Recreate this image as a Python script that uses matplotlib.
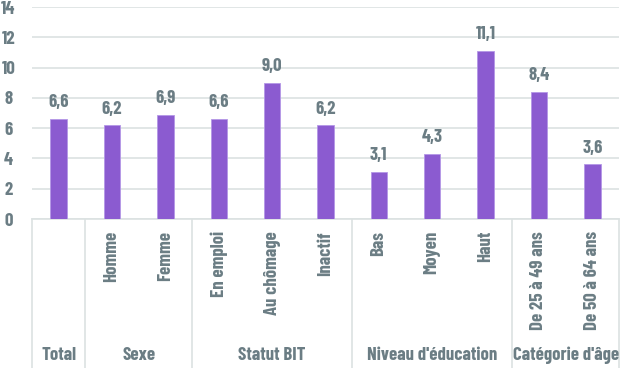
import matplotlib.pyplot as plt
import matplotlib.transforms as mtransforms

categories = ['Total', 'Homme', 'Femme', 'En emploi', 'Au chômage', 'Inactif',
              'Bas', 'Moyen', 'Haut', 'De 25 à 49 ans', 'De 50 à 64 ans']
tick_labels = ['', 'Homme', 'Femme', 'En emploi', 'Au chômage', 'Inactif',
               'Bas', 'Moyen', 'Haut', 'De 25 à 49 ans', 'De 50 à 64 ans']
values = [6.6, 6.2, 6.9, 6.6, 9.0, 6.2, 3.1, 4.3, 11.1, 8.4, 3.6]
value_labels = ['6,6', '6,2', '6,9', '6,6', '9,0', '6,2', '3,1', '4,3', '11,1', '8,4', '3,6']
groups = ['Total', 'Sexe', 'Statut BIT', "Niveau d'éducation", "Catégorie d'âge"]
group_sizes = [1, 2, 3, 3, 2]
yticks = [0, 2, 4, 6, 8, 10, 12, 14]

plt.rcParams['font.family'] = ['Barlow Condensed', 'DejaVu Sans']

txt = '#6b7d84'
bar_col = '#8b5bd0'
grid_col = '#dce2e2'
fs = 13.5
fw = 'bold'

W, H = 638, 368
fig = plt.figure(figsize=(W / 100, H / 100), dpi=100)
ax = fig.add_axes([32 / W, (H - 219) / H, 587 / W, 212 / H])

x = list(range(len(categories)))
ax.bar(x, values, width=0.31, color=bar_col, edgecolor='#b497e6', linewidth=0.6, zorder=3)
for xi, v, lab in zip(x, values, value_labels):
    ax.text(xi, v + 0.5, lab, ha='center', va='bottom', color=txt, fontsize=fs, fontweight=fw)

ax.set_xlim(-0.5, len(categories) - 0.5)
ax.set_ylim(0, 14)
ax.set_yticks(yticks)
ax.set_yticklabels([str(t) for t in yticks], color=txt, fontsize=fs, fontweight=fw)
ax.tick_params(axis='y', length=0, pad=17)
ax.tick_params(axis='x', length=0, labelbottom=False)
for t in ax.get_yticklabels():
    t.set_horizontalalignment('center')
ax.yaxis.grid(True, color=grid_col, linewidth=1.2, zorder=0)
for s in ax.spines.values():
    s.set_visible(False)

trans = mtransforms.blended_transform_factory(ax.transData, ax.transAxes)
depth = -(H - 219) / 212.0

# category labels
for xi, c in zip(x, tick_labels):
    ax.text(xi, -12 / 212.0, c, transform=trans, rotation=90, ha='center', va='top',
            color=txt, fontsize=fs, fontweight=fw)

# group separators and labels
pos = -0.5
ax.plot([-0.5, len(categories) - 0.5], [0, 0], transform=trans, color=grid_col,
        linewidth=1.2, clip_on=False)
ax.plot([pos, pos], [0, depth], transform=trans, color=grid_col, linewidth=1.2, clip_on=False)
for g, n in zip(groups, group_sizes):
    ax.text(pos + n / 2.0, -136 / 212.0, g, transform=trans, ha='center', va='center',
            color=txt, fontsize=fs, fontweight=fw)
    pos += n
    ax.plot([pos, pos], [0, depth], transform=trans, color=grid_col, linewidth=1.2, clip_on=False)

fig.savefig('out.png', dpi=100)
